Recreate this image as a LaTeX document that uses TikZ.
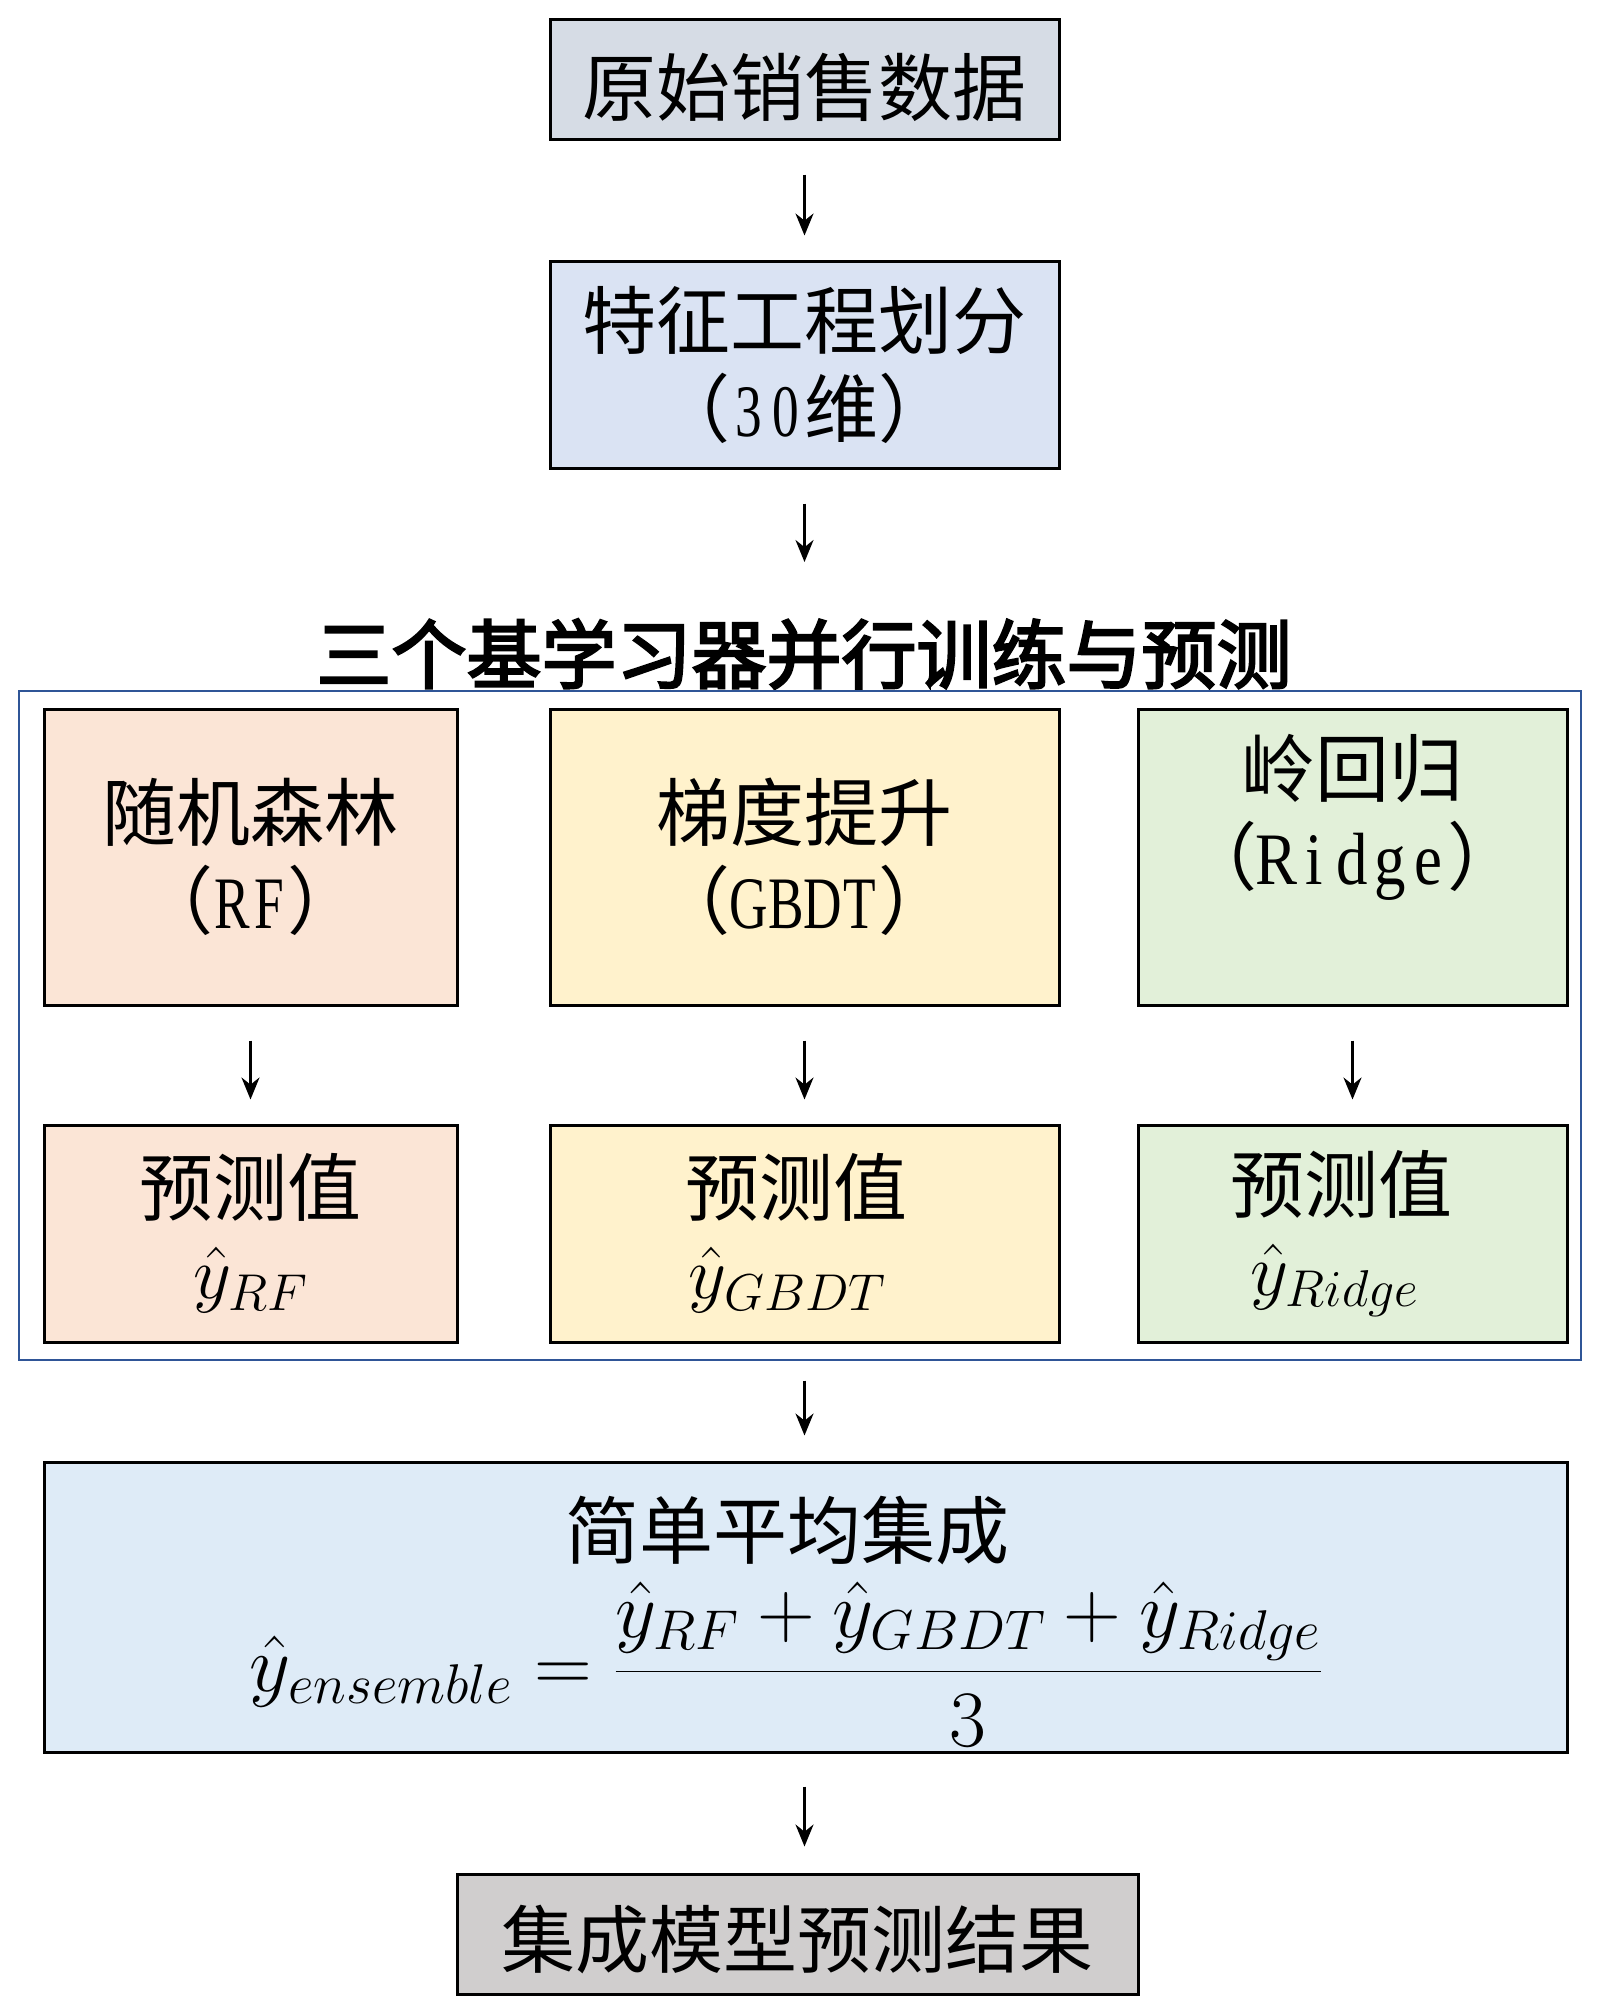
\RequirePackage{fix-cm}
\documentclass[tikz,border=0pt]{standalone}
\usepackage{fontspec}
\setmainfont{Liberation Serif}
\newfontfamily\cjk{Noto Sans CJK SC}
\newfontfamily\cjkb[FakeBold=3]{Noto Sans CJK SC}
\newfontfamily\lat[FakeStretch=0.72]{Liberation Serif}
\newfontfamily\latw[FakeStretch=0.85]{Liberation Serif}
\usetikzlibrary{arrows.meta}
\newcommand\hw[1]{\makebox[37pt]{\lat #1}}
\newcommand\hwr[1]{\makebox[38pt]{\latw #1}}
\newcommand\padr[1]{\hbox to #1{}}
\definecolor{craw}{HTML}{D6DCE5}
\definecolor{cfeat}{HTML}{DAE3F3}
\definecolor{crf}{HTML}{FBE5D6}
\definecolor{cgb}{HTML}{FFF2CC}
\definecolor{crd}{HTML}{E2F0D9}
\definecolor{cens}{HTML}{DEEBF7}
\definecolor{cfin}{HTML}{D0CECE}
\definecolor{cframe}{HTML}{2F5597}
\tikzset{
  box/.style={draw=black, line width=3pt, rectangle, inner sep=0pt, align=center,
    font=\fontsize{74}{88}\selectfont},
  arr/.style={-{Stealth[length=22pt,width=18pt]}, line width=2.5pt, shorten <=34pt, shorten >=24pt},
  plain/.style={inner sep=0pt}
}
\begin{document}
\begin{tikzpicture}[x=1pt,y=-1pt]
\path[use as bounding box, fill=white] (0,0) rectangle (1600,2016);

\node[box, fill=craw, minimum width=509, minimum height=120] (raw) at (804.5,79)
  {\raisebox{-8pt}[\height][\depth]{\cjk 原始销售数据}};
\node[box, fill=cfeat, minimum width=509, minimum height=207] (feat) at (804.5,364.5)
  {{\cjk 特征工程划分}\\{\cjk （}\hw{3}\hw{0}{\cjk 维）}};

\node[plain, font=\fontsize{75}{88}\selectfont\cjkb] (title) at (804,654) {三个基学习器并行训练与预测};
\coordinate (a2) at (804.5,562);

\node[draw=cframe, line width=2.5pt, rectangle, inner sep=0pt, minimum width=1562, minimum height=669] (frame) at (800,1025.5) {};

\node[box, fill=crf, minimum width=413, minimum height=296] (rf) at (250.5,857)
  {{\cjk 随机森林}\\{\cjk （}\hw{R}\hw{F}{\cjk ）}};
\node[box, fill=cgb, minimum width=509, minimum height=296] (gbdt) at (804.5,857)
  {{\cjk 梯度提升}\\{\cjk （}\hw{G}\hw{B}\hw{D}\hw{T}{\cjk ）}};
\node[box, fill=crd, minimum width=429, minimum height=296] (ridge) at (1352.5,857)
  {{\cjk 岭回归}\\{\cjk （}\hwr{R}\hwr{i}\hwr{d}\hwr{g}\hwr{e}{\cjk ）}\\[8pt]\mbox{}};

\node[box, fill=crf, minimum width=413, minimum height=217] (rfp) at (250.5,1233.5)
  {{\cjk 预测值}\\[-5pt]$\hat{y}_{RF}$};
\node[box, fill=cgb, minimum width=509, minimum height=217] (gbdtp) at (804.5,1233.5)
  {{\cjk 预测值}\padr{16pt}\\[-5pt]$\hat{y}_{GBDT}$\padr{34pt}};
\node[box, fill=crd, minimum width=429, minimum height=217] (ridgep) at (1352.5,1233.5)
  {{\cjk 预测值}\padr{22pt}\\[-5pt]$\hat{y}_{Ridge}$\padr{36pt}};

\node[box, fill=cens, minimum width=1523, minimum height=290] (ens) at (805.5,1607) {};
\node[plain, font=\fontsize{74}{88}\selectfont\cjk] (enst) at (787,1531) {简单平均集成};
\node[plain, font=\fontsize{80}{88}\selectfont] (ensf) at (786,1664)
  {$\displaystyle \hat{y}_{ensemble}=\frac{\hat{y}_{RF}+\hat{y}_{GBDT}+\hat{y}_{Ridge}}{3}$};

\node[box, fill=cfin, minimum width=681, minimum height=120] (final) at (797.5,1934)
  {\raisebox{-6pt}[\height][\depth]{\cjk 集成模型预测结果}};

\draw[arr] (raw) -- (feat);
\draw[arr, shorten >=0pt] (feat) -- (a2);
\draw[arr] (rf) -- (rfp);
\draw[arr] (gbdt) -- (gbdtp);
\draw[arr] (ridge) -- (ridgep);
\draw[arr, shorten <=37pt, shorten >=25pt] (gbdtp.south) -- (gbdtp.south |- ens.north);
\draw[arr, shorten <=33pt, shorten >=26pt] (ens.south -| raw) -- (raw |- final.north);
\end{tikzpicture}
\end{document}
